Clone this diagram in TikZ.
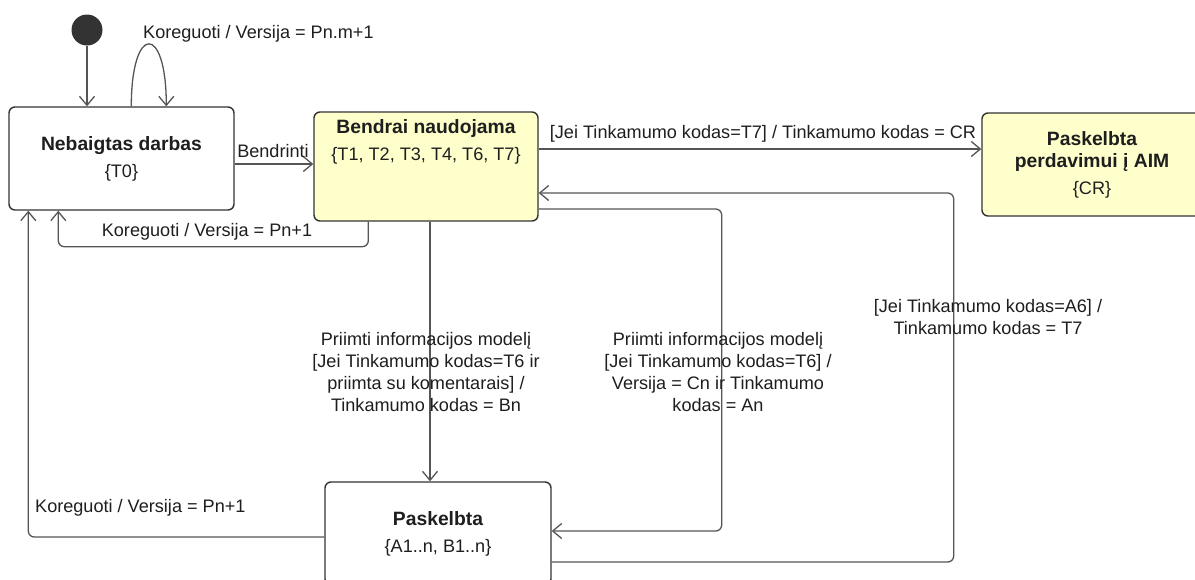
\documentclass[tikz,border=0pt]{standalone}
\usepackage{fontspec}
\setmainfont{Liberation Sans}
\usetikzlibrary{arrows.meta,calc}
\definecolor{lc}{HTML}{555555}
\definecolor{bc}{HTML}{333333}
\definecolor{yf}{HTML}{FFFFCC}
\definecolor{tc}{HTML}{1E1E1E}
\newcommand\ttlfont{\fontsize{19.3}{21}\selectfont\bfseries}
\begin{document}
\begin{tikzpicture}[x=1pt,y=-1pt,
  every node/.style={font=\fontsize{18.1}{22}\selectfont, text=tc, inner sep=0pt},
  statebox/.style={draw=bc, line width=1.4pt, rounded corners=6pt, fill=white},
  yellowbox/.style={statebox, fill=yf},
  arr/.style={draw=lc, line width=1.3pt, -{Straight Barb[length=9pt,width=15pt,line width=1.3pt]}}]
\useasboundingbox (0,0) rectangle (1195,579);

% states
\node[circle, fill=bc, minimum size=31pt] (init) at (87,30) {};
\node[statebox, minimum width=225pt, minimum height=103pt, align=center] (nd) at (121.5,158.5)
  {{\ttlfont Nebaigtas darbas}\\[5pt]\{T0\}};
\node[yellowbox, minimum width=224pt, minimum height=109pt] (bn) at (426,166.5) {};
\node[align=center] (bnt) at ($(bn.north)+(0,30.5)$)
  {{\ttlfont Bendrai naudojama}\\[5pt]\{T1, T2, T3, T4, T6, T7\}};
\node[yellowbox, minimum width=220pt, minimum height=103pt, align=center] (pa) at (1092,164.5)
  {{\ttlfont Paskelbta}\\{\ttlfont perdavimui į AIM}\\[5pt]\{CR\}};
\node[statebox, minimum width=226pt, minimum height=103pt, align=center] (pk) at (438,533.5)
  {{\ttlfont Paskelbta}\\[5pt]\{A1..n, B1..n\}};

% transitions
\draw[arr] (init) -- (init |- nd.north);
\draw[arr] ($(nd.north west)+(123,0)$) .. controls ($(nd.north west)+(123,-83)$) and ($(nd.north west)+(158,-83)$) .. ($(nd.north west)+(158,0)$);
\node[anchor=west] (lself) at (143,34) {Koreguoti / Versija = Pn.m+1};

\draw[arr] ($(nd.east)+(0,5.5)$) -- ($(bn.west)+(0,-2.5)$);
\node (lbend) at (273,151) {Bendrinti};

\draw[arr, rounded corners=6pt] ($(bn.south west)+(55,0)$) -- ++(0,25) -| ($(nd.south west)+(50,0)$);
\node (lkor1) at (207,232) {Koreguoti / Versija = Pn+1};

\draw[arr] ($(bn.east)+(0,-17.5)$) -- ($(pa.west)+(0,-15.5)$);
\node (lcr) at (763,134) {[Jei Tinkamumo kodas=T7] / Tinkamumo kodas = CR};

\draw[arr, rounded corners=6pt] ($(pk.east)+(0,28.5)$) -- ++(402,0) |- ($(bn.east)+(0,26.5)$);
\node[align=center] (la6) at (988,317) {[Jei Tinkamumo kodas=A6] /\\Tinkamumo kodas = T7};

\draw[arr, rounded corners=6pt] ($(bn.east)+(0,42.5)$) -- ++(183,0) |- ($(pk.east)+(0,-2.5)$);
\node[align=center] (lt6b) at (718,372) {Priimti informacijos modelį\\{}[Jei Tinkamumo kodas=T6] /\\Versija = Cn ir Tinkamumo\\kodas = An};

\draw[arr] ($(bn.south)+(4,0)$) -- ($(pk.north)+(-8,0)$);
\node[align=center] (lt6a) at (426,372) {Priimti informacijos modelį\\{}[Jei Tinkamumo kodas=T6 ir\\priimta su komentarais] /\\Tinkamumo kodas = Bn};

\draw[arr, rounded corners=6pt] ($(pk.west)+(0,3.5)$) -| ($(nd.south west)+(20,0)$);
\node[anchor=west] (lkor2) at (35,508) {Koreguoti / Versija = Pn+1};
\end{tikzpicture}
\end{document}
